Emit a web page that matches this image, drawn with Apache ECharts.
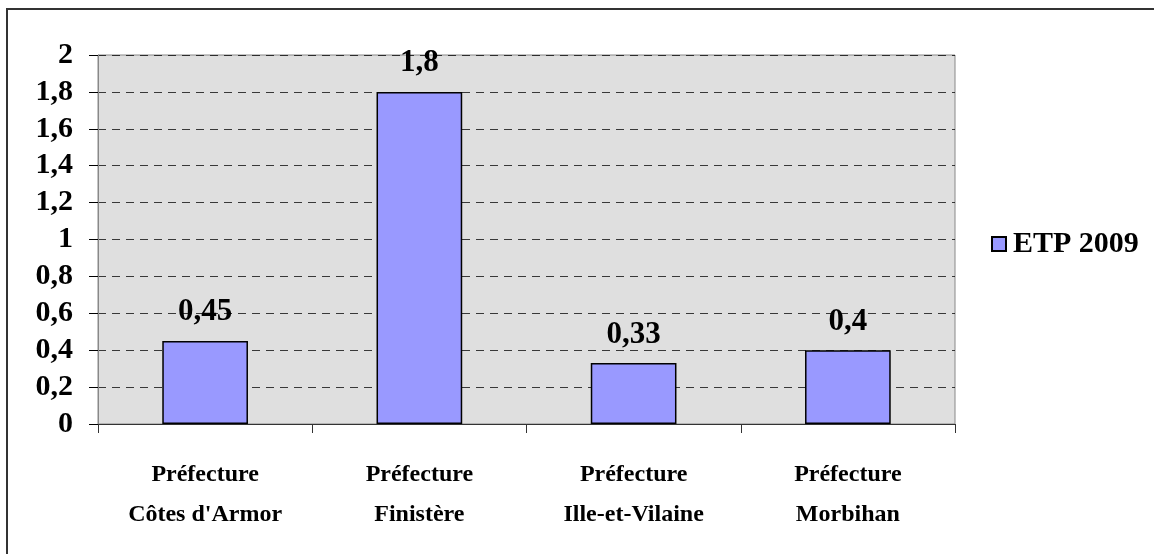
<!DOCTYPE html>
<html>
<head>
<meta charset="utf-8">
<script src="https://cdn.jsdelivr.net/npm/echarts@6/dist/echarts.min.js"></script>
<style>html,body{margin:0;padding:0;background:#fff;}#c{width:1154px;height:554px;}</style>
</head>
<body>
<div id="c"></div>
<script>
const categories = ["Préfecture\nCôtes d'Armor", "Préfecture\nFinistère", "Préfecture\nIlle-et-Vilaine", "Préfecture\nMorbihan"];
const seriesName = "ETP 2009";
const values = [0.45, 1.8, 0.33, 0.4];
const yMin = 0, yMax = 2, yStep = 0.2;

const FONT = '"Liberation Serif", "DejaVu Serif", serif';
const fmt = v => String(Math.round(v * 100) / 100).replace('.', ',');

const chart = echarts.init(document.getElementById('c'), null, {renderer: 'canvas'});
chart.setOption({
  animation: false,
  backgroundColor: '#ffffff',
  textStyle: {fontFamily: FONT},
  graphic: [{
    type: 'rect', silent: true, z: 100,
    shape: {x: 7, y: 9, width: 1200, height: 600},
    style: {fill: 'none', stroke: '#333333', lineWidth: 2}
  }],
  legend: {
    show: true, left: 986, top: 224, orient: 'vertical',
    itemWidth: 14, itemHeight: 14, itemGap: 8, icon: 'rect',
    textStyle: {fontFamily: FONT, fontSize: 30, fontWeight: 'bold', color: '#000', padding: [0, 0, 0, 2]},
    data: [seriesName]
  },
  grid: {
    left: 98, right: 199, top: 55, bottom: 130,
    show: true, backgroundColor: '#DFDFDF', borderColor: '#888888', borderWidth: 1
  },
  xAxis: {
    type: 'category', data: categories,
    axisLine: {lineStyle: {color: '#333333', width: 1}},
    axisTick: {show: true, inside: false, length: 9, alignWithLabel: false, lineStyle: {color: '#333'}},
    axisLabel: {fontFamily: FONT, fontSize: 24, fontWeight: 'bold', color: '#000', margin: 31, lineHeight: 40, interval: 0}
  },
  yAxis: {
    type: 'value', min: yMin, max: yMax, interval: yStep,
    axisLine: {show: true, lineStyle: {color: '#888888', width: 1}},
    axisTick: {show: true, inside: false, length: 9, lineStyle: {color: '#000'}},
    axisLabel: {fontFamily: FONT, fontSize: 30, fontWeight: 'bold', color: '#000', margin: 25, formatter: v => fmt(v)},
    splitLine: {show: true, lineStyle: {color: '#000000', type: [8, 6], width: 1, opacity: 0.75}}
  },
  series: [{
    name: seriesName, type: 'bar', data: values, barWidth: '40%',
    itemStyle: {color: '#9999FF', borderColor: '#000000', borderWidth: 1.5},
    label: {
      show: true, position: 'top', distance: 13,
      fontFamily: FONT, fontSize: 31, fontWeight: 'bold', color: '#000',
      formatter: p => fmt(p.value)
    }
  }]
});
</script>
</body>
</html>
